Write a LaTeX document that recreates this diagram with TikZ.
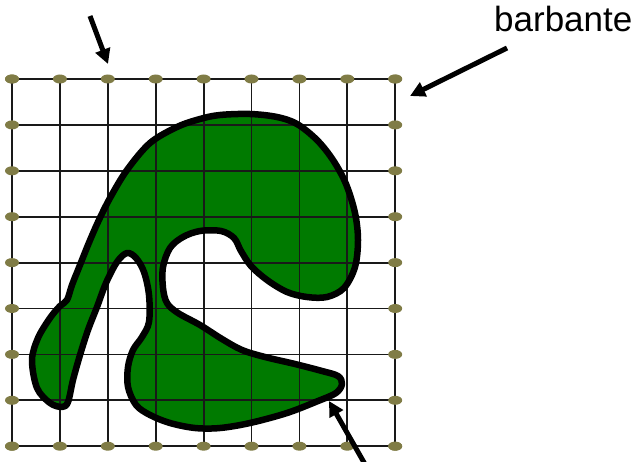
\documentclass[tikz,border=0pt]{standalone}
\usepackage{fontspec}
\setmainfont{Liberation Sans}
\usetikzlibrary{arrows.meta}
\definecolor{leaf}{RGB}{0,122,0}
\definecolor{knot}{RGB}{128,124,70}
\tikzset{
  gridline/.style={line width=1.8pt, black!90},
  outline/.style={line width=6.5pt, black, line join=round},
  knotdot/.style={fill=knot, draw=none},
  pointer/.style={line width=5pt, -{Triangle[length=15pt,width=15pt]}},
}
\begin{document}
\begin{tikzpicture}[x=1pt,y=-1pt]
\useasboundingbox (0,0) rectangle (644,462);
\def\shapepts{(220,115) (250,114) (277,117) (297,124) (317,140) (333,160) (346,184) (355,213) (358,240) (355,267) (344,288) (327,297) (307,297) (287,292) (267,280) (251,266) (241,251) (234,238) (221,231) (200,231) (183,237) (170,248) (163,267) (163,288) (167,303) (178,313) (200,325) (222,339) (242,350) (265,357) (295,364) (322,371) (338,376) (342,384) (336,393) (318,401) (287,413) (250,423) (220,428) (195,428) (170,423) (150,415) (136,405) (128,387) (128,367) (133,350) (142,337) (149,322) (149,295) (144,272) (136,258) (127,253) (117,262) (106,283) (97,307) (88,330) (80,355) (73,380) (68,402) (62,407) (50,403) (37,388) (32,360) (38,338) (50,318) (60,306) (67,300) (72,285) (80,265) (88,245) (98,222) (110,198) (127,170) (150,143) (177,127) (200,119)}
% shape fill
\fill[leaf] plot[smooth cycle, tension=0.55] coordinates {\shapepts};
% grid
\foreach \i in {0,...,8} {
  \draw[gridline] ({12+47.9*\i},79) -- ({12+47.9*\i},446.2);
  \draw[gridline] (12,{79+45.9*\i}) -- (395.2,{79+45.9*\i});
}
% outline
\draw[outline] plot[smooth cycle, tension=0.55] coordinates {\shapepts};
% knots on the border
\foreach \i in {0,...,8} {
  \fill[knotdot] ({12+47.9*\i},79) ellipse (7pt and 4.5pt);
  \fill[knotdot] ({12+47.9*\i},446.2) ellipse (7pt and 4.5pt);
  \fill[knotdot] (12,{79+45.9*\i}) ellipse (7pt and 4.5pt);
  \fill[knotdot] (395.2,{79+45.9*\i}) ellipse (7pt and 4.5pt);
}
% label and pointers
\node[anchor=base west, inner sep=0pt, font=\fontsize{35}{40}\selectfont] (lbl) at (494,32) {barbante};
\coordinate (lblfoot) at (507,48);
\coordinate (corner) at (410,96);
\draw[pointer] (lblfoot) -- (corner);
\coordinate (toptail) at (90,16);
\coordinate (toptip) at (108,64);
\draw[pointer] (toptail) -- (toptip);
\coordinate (bottail) at (366,466);
\coordinate (bottip) at (329,401);
\draw[pointer] (bottail) -- (bottip);
\end{tikzpicture}
\end{document}
